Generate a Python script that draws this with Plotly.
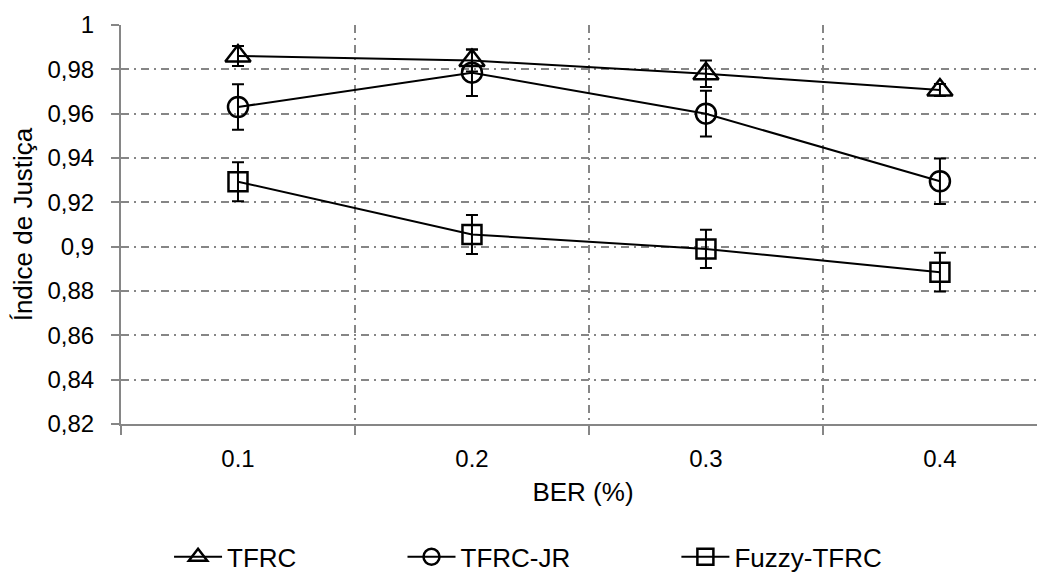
import plotly.graph_objects as go

# ---- data ----
categories = ["0.1", "0.2", "0.3", "0.4"]
x_pos = [1, 2, 3, 4]

tfrc = [0.986, 0.984, 0.978, 0.9707]
tfrc_err = [0.0045, 0.005, 0.006, 0.0027]

tfrc_jr = [0.963, 0.9785, 0.960, 0.9295]
tfrc_jr_err = [0.0103, 0.0105, 0.0103, 0.0103]

fuzzy = [0.9293, 0.9055, 0.8990, 0.8885]
fuzzy_err = [0.0088, 0.0088, 0.0086, 0.0087]

y_tickvals = [0.82, 0.84, 0.86, 0.88, 0.90, 0.92, 0.94, 0.96, 0.98, 1.0]
y_ticktext = ["0,82", "0,84", "0,86", "0,88", "0,9", "0,92", "0,94", "0,96", "0,98", "1"]

GRID = "#868686"
FONT = "Liberation Sans"
PAD = "\u00a0" * 14

fig = go.Figure()

series = [
    ("TFRC" + PAD, tfrc, tfrc_err, "triangle-up-open", 22),
    ("TFRC-JR" + PAD, tfrc_jr, tfrc_jr_err, "circle-open", 20),
    ("Fuzzy-TFRC", fuzzy, fuzzy_err, "square-open", 19),
]

for name, vals, errs, sym, size in series:
    fig.add_trace(go.Scatter(
        x=x_pos, y=vals, name=name,
        mode="lines+markers",
        line=dict(color="black", width=2),
        marker=dict(symbol=sym, size=size, color="black",
                    line=dict(color="black", width=2.5)),
        error_y=dict(type="data", array=errs, visible=True,
                     color="black", thickness=2, width=6),
    ))

# the page body adds an 8px offset; the figure is sized to fill the rest
fig.update_layout(
    width=1037, height=573,
    margin=dict(l=113, r=0, t=17, b=157),
    paper_bgcolor="white", plot_bgcolor="white",
    font=dict(family=FONT, size=24, color="black"),
    showlegend=True,
    legend=dict(orientation="h", x=0.052, xanchor="left",
                yref="container", y=0.042, yanchor="middle",
                itemwidth=48,
                font=dict(family=FONT, size=26, color="black"),
                bgcolor="rgba(0,0,0,0)"),
    xaxis=dict(
        range=[0.5, 4.449], automargin=False,
        tickmode="array", tickvals=x_pos, ticktext=categories,
        ticks="", showgrid=False, zeroline=False,
        showline=True, linecolor=GRID, linewidth=2,
        ticklabelstandoff=12,
        tickfont=dict(family=FONT, size=24, color="black"),
        minor=dict(tick0=0.5, dtick=1, ticks="outside", ticklen=9,
                   tickcolor=GRID, tickwidth=1.5,
                   showgrid=True, gridcolor=GRID, gridwidth=1.5,
                   griddash="8px,5px,2px,5px"),
        title=dict(text="BER (%)", font=dict(family=FONT, size=26, color="black"),
                   standoff=12),
    ),
    yaxis=dict(
        range=[0.82, 1.0], automargin=False,
        tickmode="array", tickvals=y_tickvals, ticktext=y_ticktext,
        ticks="outside", ticklen=8, tickcolor=GRID, tickwidth=1.5,
        ticklabelstandoff=12,
        showgrid=True, gridcolor=GRID, gridwidth=1.5,
        griddash="8px,5px,2px,5px",
        zeroline=False,
        showline=True, linecolor=GRID, linewidth=2,
        tickfont=dict(family=FONT, size=24, color="black"),
        title=dict(text="Índice de Justiça", font=dict(family=FONT, size=26, color="black"),
                   standoff=10),
    ),
)

fig.write_html("out.html")
